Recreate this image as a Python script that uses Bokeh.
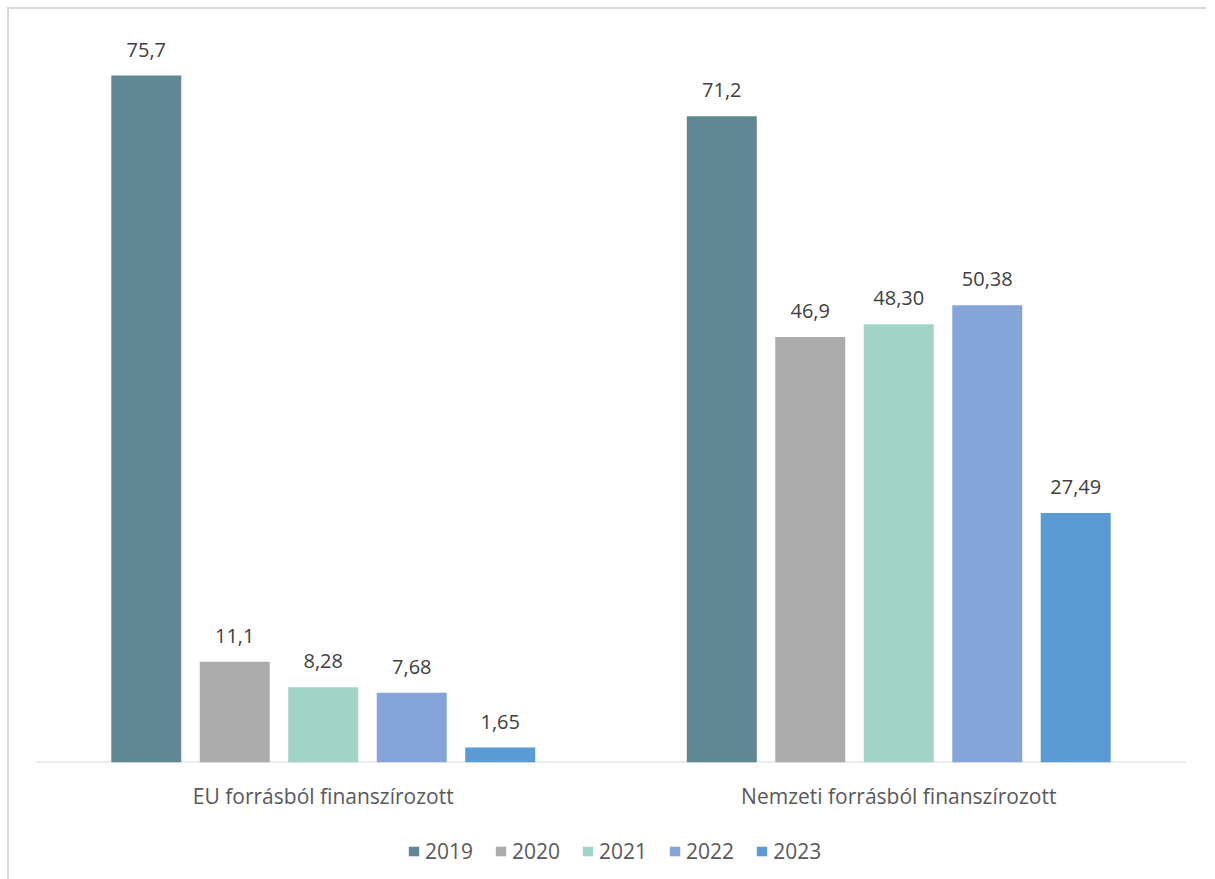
from bokeh.plotting import figure
from bokeh.layouts import column
from bokeh.models import ColumnDataSource, FactorRange, Range1d, Span, Legend, LegendItem
from bokeh.transform import dodge
from bokeh.core.properties import value
from bokeh.embed import file_html
from bokeh.resources import INLINE

categories = ["EU forrásból finanszírozott", "Nemzeti forrásból finanszírozott"]
years = ["2019", "2020", "2021", "2022", "2023"]
values_2019 = [75.7, 71.2]
values_2020 = [11.1, 46.9]
values_2021 = [8.28, 48.30]
values_2022 = [7.68, 50.38]
values_2023 = [1.65, 27.49]
labels_2019 = ["75,7", "71,2"]
labels_2020 = ["11,1", "46,9"]
labels_2021 = ["8,28", "48,30"]
labels_2022 = ["7,68", "50,38"]
labels_2023 = ["1,65", "27,49"]

series = [values_2019, values_2020, values_2021, values_2022, values_2023]
series_labels = [labels_2019, labels_2020, labels_2021, labels_2022, labels_2023]
colors = ["#608894", "#ababab", "#a0d4c7", "#85a4d7", "#5b9bd5"]
offsets = [-0.3075, -0.1538, 0.0, 0.1538, 0.3075]
bar_width = 0.1216

FONT = "Open Sans"

p = figure(
    x_range=FactorRange(*categories, range_padding=0),
    y_range=Range1d(0, 80),
    frame_width=1151, frame_height=726,
    output_backend="svg", toolbar_location=None,
    min_border_left=26, min_border_right=20, min_border_top=27, min_border_bottom=0,
)
p.outline_line_color = None
p.grid.grid_line_color = None
p.yaxis.visible = False
p.xaxis.axis_line_color = None
p.xaxis.major_tick_line_color = None
p.xaxis.minor_tick_line_color = None
p.xaxis.major_label_text_font = FONT
p.xaxis.major_label_text_font_size = "21px"
p.xaxis.major_label_text_color = "#595959"
p.xaxis.major_label_standoff = 13

base = Span(location=0, dimension="width", line_color="#d9d9d9", line_width=2, level="underlay")
p.add_layout(base)

# legend strip
p2 = figure(
    x_range=Range1d(0, 1), y_range=Range1d(0, 1),
    frame_width=1151, frame_height=56,
    output_backend="svg", toolbar_location=None,
    x_axis_location=None, y_axis_location=None,
    min_border_left=26, min_border_right=20, min_border_top=19, min_border_bottom=0,
)
p2.outline_line_color = None
p2.grid.grid_line_color = None

items = []
for yr, vals, labs, col, off in zip(years, series, series_labels, colors, offsets):
    src = ColumnDataSource(dict(cat=categories, top=vals, lab=labs))
    p.vbar(x=dodge("cat", off, range=p.x_range), top="top", width=bar_width,
           source=src, fill_color=col, line_color=None)
    p.text(x=dodge("cat", off, range=p.x_range), y="top", text="lab", source=src,
           text_font=value(FONT), text_font_size="20px", text_color="#404040",
           text_align="center", text_baseline="middle", y_offset=-26)
    swatch_src = ColumnDataSource(dict(v=vals))
    swatch = p2.vbar(x="v", top="v", width=bar_width, source=swatch_src,
                     fill_color=col, line_color=None, visible=False)
    items.append(LegendItem(label=yr, renderers=[swatch]))

legend = Legend(items=items, orientation="horizontal", location=(372, 22),
                label_text_font=FONT, label_text_font_size="21px", label_text_color="#595959",
                glyph_width=13, glyph_height=12, label_standoff=5, spacing=21,
                border_line_color=None, background_fill_alpha=0, padding=0, margin=0,
                inactive_fill_alpha=0)
p2.add_layout(legend)

layout = column(p, p2, spacing=0)
layout.styles = {"border-top": "2px solid #d9d9d9", "border-left": "2px solid #d9d9d9",
                 "margin-left": "7px", "margin-top": "7px"}

open("out.html", "w").write(file_html(layout, INLINE))
